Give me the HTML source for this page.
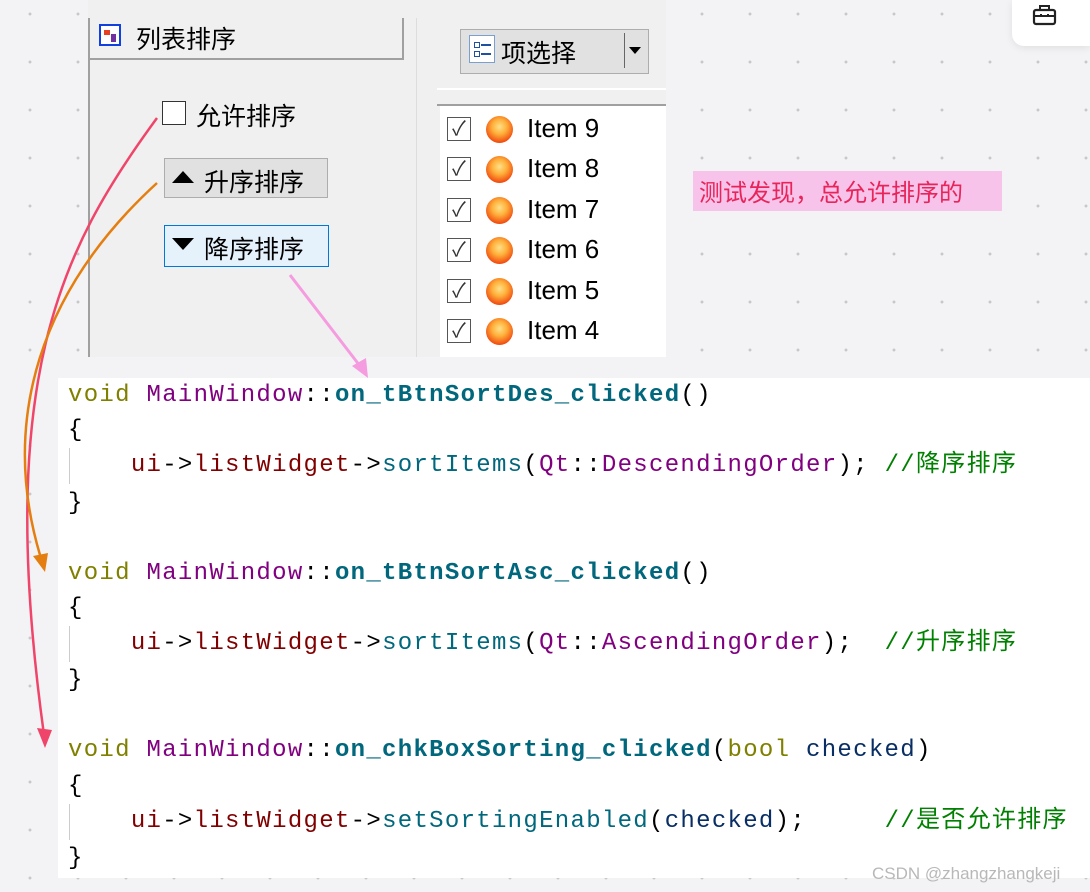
<!DOCTYPE html>
<html><head><meta charset="utf-8"><style>
body{margin:0;width:1090px;height:892px;overflow:hidden;background:#f3f3f5;
background-image:radial-gradient(circle,#c8c8cc 1.3px,transparent 1.6px);background-size:48px 48px;background-position:6px -10px;position:relative;font-family:"Liberation Sans","Noto Sans CJK SC",sans-serif}
.a{position:absolute}
.cn{font-family:"Noto Sans CJK SC","WenQuanYi Zen Hei",sans-serif}
.code{position:absolute;left:58px;top:378px;width:1032px;height:500px;background:#fff}
.ln{position:absolute;left:10px;font-family:"Liberation Mono","Noto Sans CJK SC",monospace;font-size:24px;letter-spacing:1.3px;white-space:pre;line-height:30px;color:#000}
.k{color:#808000}.m{color:#800080}.f{color:#00677c;font-weight:bold}.r{color:#800000}.t{color:#00677c}.c{color:#008000}.v{color:#092e64}
.bar{position:absolute;left:11px;width:1px;background:#ccc}
.item{position:absolute;left:447px;height:30px;font-size:26px;color:#000}
.cb{position:absolute;left:0;top:2px;width:22px;height:22px;border:1.5px solid #555;background:#fff;font-size:20px;line-height:22px;text-align:center;color:#333}
.ball{position:absolute;left:39px;top:1px;width:27px;height:27px;border-radius:50%;background:radial-gradient(circle at 50% 40%,#ffe08a 0,#ffb03a 35%,#f04a10 75%,#d03000 100%)}
</style></head><body>
<div class="a" style="left:88px;top:0;width:578px;height:357px;background:#f0f0f0"></div>
<div class="a" style="left:88px;top:18px;width:2px;height:339px;background:#a0a0a0"></div>
<div class="a" style="left:88px;top:58px;width:316px;height:2px;background:#a0a0a0"></div>
<div class="a" style="left:402px;top:18px;width:2px;height:42px;background:#a0a0a0"></div>
<div class="a" style="left:416px;top:18px;width:1px;height:339px;background:#ddd"></div>
<div class="a" style="left:99px;top:24px;width:22px;height:22px;border:2px solid #1040e0;background:#fff;box-sizing:border-box"><div class="a" style="left:3px;top:4px;width:6px;height:5px;background:#e84020"></div><div class="a" style="left:10px;top:8px;width:5px;height:8px;background:#7030a0"></div></div>
<div class="a cn" style="left:136px;top:20px;font-size:25px">列表排序</div>
<div class="a" style="left:162px;top:101px;width:24px;height:24px;border:1.5px solid #333;background:#fff;box-sizing:border-box"></div>
<div class="a cn" style="left:196px;top:97px;font-size:25px">允许排序</div>
<div class="a" style="left:164px;top:158px;width:164px;height:40px;border:1px solid #adadad;background:#e1e1e1;box-sizing:border-box"></div>
<div class="a" style="left:172px;top:171px;width:0;height:0;border-left:11px solid transparent;border-right:11px solid transparent;border-bottom:12px solid #000"></div>
<div class="a cn" style="left:204px;top:163px;font-size:25px">升序排序</div>
<div class="a" style="left:164px;top:225px;width:165px;height:42px;border:1.5px solid #0078d7;background:#e5f1fb;box-sizing:border-box"></div>
<div class="a" style="left:172px;top:238px;width:0;height:0;border-left:11px solid transparent;border-right:11px solid transparent;border-top:12px solid #000"></div>
<div class="a cn" style="left:204px;top:230px;font-size:25px">降序排序</div>
<div class="a" style="left:460px;top:29px;width:189px;height:45px;border:1px solid #adadad;background:#e1e1e1;box-sizing:border-box"></div>
<div class="a" style="left:469px;top:35px;width:26px;height:28px;background:#fff;border:1px solid #7aa0d0;box-sizing:border-box"><div class="a" style="left:4px;top:6px;width:4px;height:4px;border:1px solid #2050a0"></div><div class="a" style="left:11px;top:8px;width:10px;height:2px;background:#2050a0"></div><div class="a" style="left:4px;top:15px;width:4px;height:4px;border:1px solid #2050a0"></div><div class="a" style="left:11px;top:17px;width:10px;height:2px;background:#2050a0"></div></div>
<div class="a cn" style="left:501px;top:34px;font-size:25px">项选择</div>
<div class="a" style="left:624px;top:33px;width:1px;height:35px;background:#666"></div>
<div class="a" style="left:629px;top:47px;width:0;height:0;border-left:6px solid transparent;border-right:6px solid transparent;border-top:7px solid #000"></div>
<div class="a" style="left:437px;top:88px;width:229px;height:2px;background:#fff"></div>
<div class="a" style="left:437px;top:104px;width:229px;height:2px;background:#a0a0a0"></div>
<div class="a" style="left:440px;top:106px;width:226px;height:251px;background:#fff"></div>
<div class="item" style="top:115px"><div class="cb">✓</div><div class="ball"></div><span class="a" style="left:80px;top:-2px">Item&nbsp;9</span></div>
<div class="item" style="top:155px"><div class="cb">✓</div><div class="ball"></div><span class="a" style="left:80px;top:-2px">Item&nbsp;8</span></div>
<div class="item" style="top:196px"><div class="cb">✓</div><div class="ball"></div><span class="a" style="left:80px;top:-2px">Item&nbsp;7</span></div>
<div class="item" style="top:236px"><div class="cb">✓</div><div class="ball"></div><span class="a" style="left:80px;top:-2px">Item&nbsp;6</span></div>
<div class="item" style="top:277px"><div class="cb">✓</div><div class="ball"></div><span class="a" style="left:80px;top:-2px">Item&nbsp;5</span></div>
<div class="item" style="top:317px"><div class="cb">✓</div><div class="ball"></div><span class="a" style="left:80px;top:-2px">Item&nbsp;4</span></div>
<div class="a cn" style="left:693px;top:171px;width:309px;height:40px;background:#f7c3ea;color:#e8245a;font-size:24px;line-height:40px;text-indent:6px">测试发现，总允许排序的</div>
<div class="a" style="left:1012px;top:0;width:78px;height:46px;background:#fff;border-bottom-left-radius:12px;box-shadow:0 2px 8px rgba(0,0,0,.08)"></div>
<svg class="a" style="left:1032px;top:4px" width="26" height="22" viewBox="0 0 26 22"><rect x="2" y="6" width="21" height="14" rx="2" fill="none" stroke="#222" stroke-width="2.2"/><path d="M8 6V2h9v4M2 12h21M9 10v3M16 10v3" fill="none" stroke="#222" stroke-width="2"/></svg>
<div class="code">
<div class="ln" style="top:3px"><span class="k">void</span> <span class="m">MainWindow</span>::<span class="f">on_tBtnSortDes_clicked</span>()</div>
<div class="ln" style="top:38px">{</div>
<div class="bar" style="top:70px;height:36px"></div>
<div class="ln" style="top:73px">    <span class="r">ui</span>-&gt;<span class="r">listWidget</span>-&gt;<span class="t">sortItems</span>(<span class="m">Qt</span>::<span class="m">DescendingOrder</span>); <span class="c">//降序排序</span></div>
<div class="ln" style="top:111px">}</div>
<div class="ln" style="top:181px"><span class="k">void</span> <span class="m">MainWindow</span>::<span class="f">on_tBtnSortAsc_clicked</span>()</div>
<div class="ln" style="top:216px">{</div>
<div class="bar" style="top:248px;height:36px"></div>
<div class="ln" style="top:251px">    <span class="r">ui</span>-&gt;<span class="r">listWidget</span>-&gt;<span class="t">sortItems</span>(<span class="m">Qt</span>::<span class="m">AscendingOrder</span>);  <span class="c">//升序排序</span></div>
<div class="ln" style="top:288px">}</div>
<div class="ln" style="top:358px"><span class="k">void</span> <span class="m">MainWindow</span>::<span class="f">on_chkBoxSorting_clicked</span>(<span class="k">bool</span> <span class="v">checked</span>)</div>
<div class="ln" style="top:394px">{</div>
<div class="bar" style="top:426px;height:36px"></div>
<div class="ln" style="top:429px">    <span class="r">ui</span>-&gt;<span class="r">listWidget</span>-&gt;<span class="t">setSortingEnabled</span>(<span class="v">checked</span>);     <span class="c">//是否允许排序</span></div>
<div class="ln" style="top:466px">}</div>
</div>
<div class="a" style="left:872px;top:864px;font-size:17px;color:#b8b8b8">CSDN @zhangzhangkeji</div>
<svg class="a" style="left:0;top:0" width="1090" height="892">
<path d="M157 118 C60 250 -5 380 44 735" fill="none" stroke="#f0456a" stroke-width="2.5"/>
<polygon points="37,728 52,730 45,748" fill="#f0456a"/>
<path d="M157 183 C40 290 0 420 40 555" fill="none" stroke="#e57e10" stroke-width="2.5"/>
<polygon points="33,556 48,553 45,572" fill="#e57e10"/>
<path d="M290 275 L360 366" stroke="#f59be0" stroke-width="3"/>
<polygon points="352,366 366,358 368,378" fill="#f59be0"/>
</svg>
</body></html>
